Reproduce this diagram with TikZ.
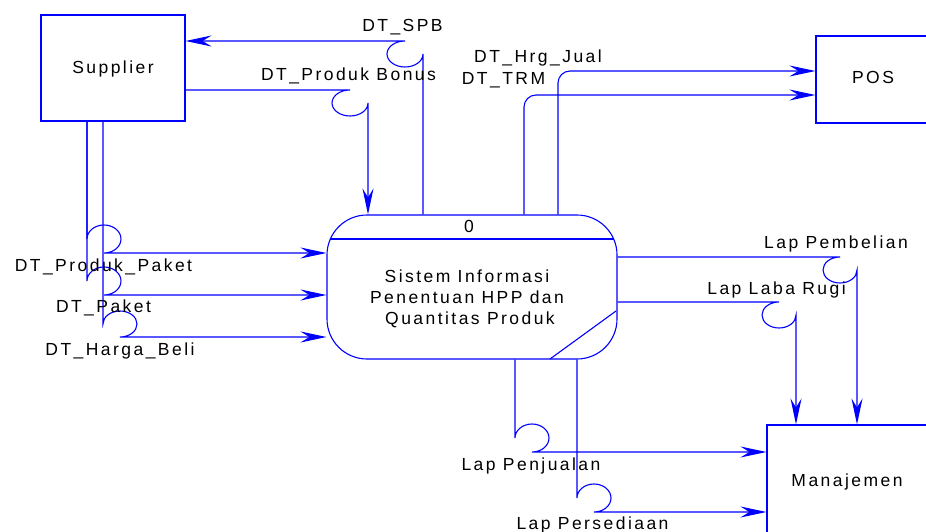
\documentclass[tikz,border=0pt]{standalone}
\usepackage{fontspec}
\setmainfont{Liberation Sans}[LetterSpace=14]
\usetikzlibrary{arrows.meta}
\definecolor{dfdblue}{RGB}{0,0,255}
\newcommand\dfdfont{\fontsize{17.5}{21}\selectfont}
\begin{document}
\begin{tikzpicture}[x=1pt,y=-1pt,
  line/.style={draw=dfdblue,line width=1.1pt},
  flow/.style={line,-{Stealth[length=26pt,width=11pt,inset=9pt]}},
  box/.style={line,rectangle,inner sep=0pt},
  txt/.style={font=\dfdfont,text=black,inner sep=0pt,anchor=base}]
\useasboundingbox (0,0) rectangle (926,532);

% entities and process
\node[box, minimum width=144pt, minimum height=106pt] (sup) at (113,68) {};
\node[box, minimum width=119pt, minimum height=87pt] (pos) at (875.5,79.5) {};
\node[box, minimum width=168pt, minimum height=114pt] (man) at (851,482) {};
\node[box, rounded corners=40pt, minimum width=290pt, minimum height=144pt] (proc) at (472,287) {};
\draw[line] (330.3,239) -- (613.7,239);
\draw[line] (550,359) -- (616,311);

% texts inside shapes
\node[txt] (tsup) at (113,74) {Supplier};
\node[txt] (tpos) at (873,84) {POS};
\node[txt] (tman) at (847,486) {Manajemen};
\node[txt] (tnum) at (469,232) {0};
\node[txt] (tp1) at (467,282) {Sistem Informasi};
\node[txt] (tp2) at (467,303) {Penentuan HPP dan};
\node[txt] (tp3) at (470,324) {Quantitas Produk};

% flows
\draw[flow] (423,0 |- proc.north) -- (423,54) arc[start angle=0,end angle=-270,x radius=18pt,y radius=13pt] -- (sup.east |- 0,41);
\draw[flow] (sup.east |- 0,90) -- (350,90) arc[start angle=90,end angle=360,x radius=18pt,y radius=13pt] -- (368,0 |- proc.north);
\draw[flow, rounded corners=12pt] (558,0 |- proc.north) |- (pos.west |- 0,71);
\draw[flow, rounded corners=12pt] (524,0 |- proc.north) |- (pos.west |- 0,95);

\draw[flow] (87,0 |- sup.south) -- (87,239) arc[start angle=180,end angle=-90,x radius=17pt,y radius=14pt] -- (proc.west |- 0,253);
\draw[flow] (87,0 |- sup.south) -- (87,281) arc[start angle=180,end angle=-90,x radius=17pt,y radius=14pt] -- (proc.west |- 0,295);
\draw[flow] (103,0 |- sup.south) -- (103,324) arc[start angle=180,end angle=-90,x radius=17pt,y radius=13pt] -- (proc.west |- 0,337);

\draw[flow] (proc.east |- 0,257) -- (840,257) arc[start angle=90,end angle=360,x radius=17pt,y radius=13pt] -- (857,0 |- man.north);
\draw[flow] (proc.east |- 0,302) -- (779,302) arc[start angle=90,end angle=360,x radius=17pt,y radius=13pt] -- (796,0 |- man.north);

\draw[flow] (515,0 |- proc.south) -- (515,438) arc[start angle=180,end angle=-90,x radius=17pt,y radius=14pt] -- (man.west |- 0,452);
\draw[flow] (577,0 |- proc.south) -- (577,498) arc[start angle=180,end angle=-90,x radius=17pt,y radius=14pt] -- (man.west |- 0,512);

% flow labels
\node[txt] (lspb) at (402.5,32) {DT\_SPB};
\node[txt] (lbon) at (348.5,81) {DT\_Produk Bonus};
\node[txt] (lhrg) at (538,63) {DT\_Hrg\_Jual};
\node[txt] (ltrm) at (503.5,85) {DT\_TRM};
\node[txt] (lpp) at (103.5,271) {DT\_Produk\_Paket};
\node[txt] (lpk) at (103.5,312) {DT\_Paket};
\node[txt] (lhb) at (120,355) {DT\_Harga\_Beli};
\node[txt] (lpem) at (836,248) {Lap Pembelian};
\node[txt] (llr) at (776.5,294) {Lap Laba Rugi};
\node[txt] (lpen) at (531,470) {Lap Penjualan};
\node[txt] (lper) at (592.5,529) {Lap Persediaan};
\end{tikzpicture}
\end{document}
